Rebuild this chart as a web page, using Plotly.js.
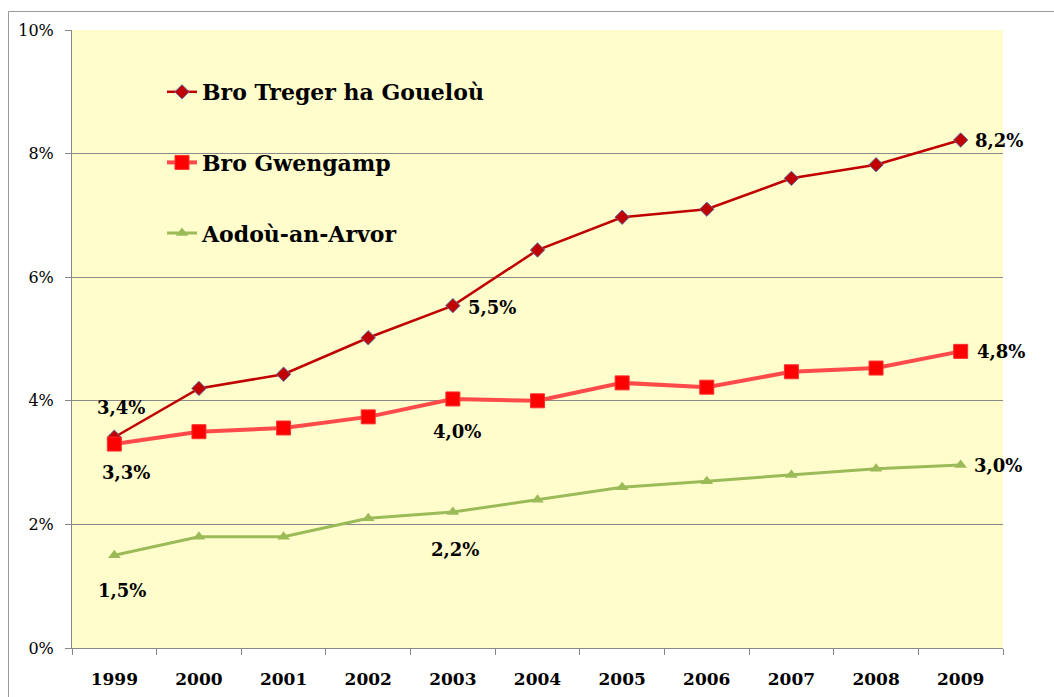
<!DOCTYPE html>
<html>
<head>
<meta charset="utf-8">
<script src="https://cdn.plot.ly/plotly-3.0.1.min.js"></script>
<style>
  html, body { margin: 0; padding: 0; background: #ffffff; }
  #chart { width: 1054px; height: 697px; }
</style>
</head>
<body>
<div id="chart"></div>
<script>
// ---- data ----
const years = ['1999','2000','2001','2002','2003','2004','2005','2006','2007','2008','2009'];
const seriesNames = ['Bro Treger ha Goueloù', 'Bro Gwengamp', 'Aodoù-an-Arvor'];
const broTreger   = [3.41, 4.2, 4.43, 5.02, 5.54, 6.44, 6.97, 7.1, 7.6, 7.82, 8.22];
const broGwengamp = [3.3, 3.5, 3.56, 3.74, 4.03, 4.0, 4.29, 4.22, 4.47, 4.53, 4.8];
const aodou       = [1.5, 1.8, 1.8, 2.1, 2.2, 2.4, 2.6, 2.7, 2.8, 2.9, 2.96];
const yTickVals   = [0, 2, 4, 6, 8, 10];
// labelled points: [series index, year index, xshift, yshift]
const labelledPoints = [
  [0, 0, 7, 30], [0, 4, 39, -2], [0, 10, 38, 0],
  [1, 0, 12, -28], [1, 4, 4, -33], [1, 10, 40, 0],
  [2, 0, 8, -35], [2, 4, 2, -37], [2, 10, 37, 0]
];

const allSeries = [broTreger, broGwengamp, aodou];
const FONT = 'DejaVu Serif, Georgia, serif';

const traces = [
  {
    x: years, y: broTreger, name: seriesNames[0], type: 'scatter', mode: 'lines+markers',
    legendgroup: 'a',
    line: { color: '#C00000', width: 2.5 },
    marker: { symbol: 'diamond', size: 11, color: '#C00000', line: { color: '#5B6C9C', width: 1 } }
  },
  {
    x: years, y: broGwengamp, name: seriesNames[1], type: 'scatter', mode: 'lines+markers',
    legendgroup: 'b',
    line: { color: '#FF4A4A', width: 4 },
    marker: { symbol: 'square', size: 14, color: '#FF0000', line: { color: '#FF3030', width: 1 } }
  },
  {
    x: years, y: aodou, name: seriesNames[2], type: 'scatter', mode: 'lines+markers',
    legendgroup: 'c',
    line: { color: '#9BBB59', width: 3 },
    marker: { symbol: 'triangle-up', size: 11, color: '#9BBB59' }
  }
];

const annotations = labelledPoints.map(([s, i, dx, dy]) => ({
  x: i, y: allSeries[s][i], xref: 'x', yref: 'y',
  text: allSeries[s][i].toFixed(1).replace('.', ',') + '%',
  showarrow: false, xshift: dx, yshift: dy,
  font: { family: FONT, size: 18, color: '#000000', weight: 'bold' }
}));

const L = 72, R = 1003, T = 30, B = 648;
const pw = R - L, ph = B - T;
const px2x = p => (p - L) / pw;
const py2y = p => (B - p) / ph;

const layout = {
  width: 1054, height: 697,
  margin: { l: L, r: 1054 - R, t: T, b: 697 - B, pad: 0 },
  paper_bgcolor: '#ffffff',
  plot_bgcolor: '#FFFDCC',
  showlegend: true,
  legend: {
    x: px2x(162), y: py2y(71), xanchor: 'left', yanchor: 'top',
    bgcolor: 'rgba(0,0,0,0)',
    tracegroupgap: 39,
    font: { family: FONT, size: 22, color: '#000000', weight: 'bold' },
    itemwidth: 30
  },
  xaxis: {
    type: 'category',
    range: [-0.5, years.length - 0.5],
    tickson: 'boundaries',
    ticks: 'outside', ticklen: 6, tickcolor: '#888888',
    showline: true, linecolor: '#888888', linewidth: 1,
    showgrid: false,
    tickfont: { family: FONT, size: 17, color: '#000000', weight: 'bold' },
    ticklabelstandoff: 16,
    fixedrange: true
  },
  yaxis: {
    range: [0, 10],
    tickvals: yTickVals,
    ticktext: yTickVals.map(v => v + '%'),
    ticks: 'outside', ticklen: 6, tickcolor: '#888888',
    showline: true, linecolor: '#888888', linewidth: 1,
    showgrid: true, gridcolor: '#8a8a8a', gridwidth: 1,
    zeroline: false,
    tickfont: { family: FONT, size: 16, color: '#000000' },
    ticklabelstandoff: 8,
    fixedrange: true
  },
  annotations: annotations,
  shapes: [
    {
      type: 'path', xref: 'paper', yref: 'paper',
      path: 'M ' + px2x(8.5) + ' ' + py2y(710) + ' L ' + px2x(8.5) + ' ' + py2y(11.5) + ' L ' + px2x(1070) + ' ' + py2y(11.5),
      line: { color: '#9a9a9a', width: 1 }
    }
  ]
};

Plotly.newPlot('chart', traces, layout, { staticPlot: true, displayModeBar: false });
</script>
</body>
</html>
